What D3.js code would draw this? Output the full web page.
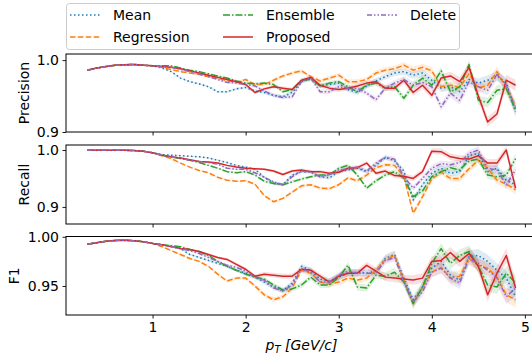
<!DOCTYPE html>
<html>
<head>
<meta charset="utf-8">
<script src="https://cdn.jsdelivr.net/npm/d3@7"></script>
<style>
html,body{margin:0;padding:0;background:#fff;}
svg{display:block;font-family:"DejaVu Sans",sans-serif;}
</style>
</head>
<body>
<svg id="chart" width="532" height="358"></svg>
<script>
const pT = [0.3,0.4,0.5,0.6,0.7,0.8,0.9,1.0,1.1,1.2,1.3,1.4,1.5,1.6,1.7,1.8,1.9,2.0,2.1,2.2,2.3,2.4,2.5,2.6,2.7,2.8,2.9,3.0,3.1,3.2,3.3,3.4,3.5,3.6,3.7,3.8,3.9,4.0,4.1,4.2,4.3,4.4,4.5,4.6,4.7,4.8,4.9];
const methods = ["Mean","Regression","Ensemble","Proposed","Delete"];
const xTicks = [1,2,3,4,5];

// Precision
const precMean = [0.986,0.989,0.991,0.993,0.9935,0.994,0.993,0.992, 0.989,0.984,0.975,0.970,0.967,0.963,0.956,0.956,0.960,0.962,0.957, 0.955,0.951,0.949,0.955,0.970,0.975,0.964,0.966,0.968,0.959,0.955,0.964,0.971,0.977,0.982,0.984,0.979,0.982,0.972,0.961,0.963,0.956,0.973,0.968,0.972,0.978,0.968,0.928];
const precRegression = [0.986,0.989,0.991,0.993,0.9935,0.994,0.993,0.992, 0.990,0.987,0.984,0.982,0.980,0.977,0.975,0.971,0.969,0.973,0.966, 0.966,0.972,0.978,0.982,0.985,0.977,0.971,0.975,0.979,0.970,0.970,0.973,0.982,0.986,0.988,0.993,0.986,0.990,0.985,0.963,0.965,0.962,0.981,0.961,0.965,0.984,0.961,0.937];
const precEnsemble = [0.986,0.989,0.991,0.993,0.9935,0.994,0.993,0.992, 0.992,0.992,0.989,0.986,0.984,0.981,0.978,0.975,0.971,0.968,0.967, 0.968,0.966,0.956,0.959,0.972,0.973,0.964,0.968,0.970,0.963,0.956,0.965,0.968,0.961,0.963,0.947,0.965,0.975,0.965,0.985,0.956,0.963,0.994,0.944,0.941,0.958,0.960,0.931];
const precProposed = [0.986,0.989,0.991,0.993,0.9935,0.994,0.993,0.992, 0.991,0.990,0.988,0.985,0.982,0.979,0.976,0.973,0.970,0.966,0.955, 0.960,0.963,0.961,0.959,0.972,0.976,0.965,0.961,0.959,0.961,0.964,0.968,0.970,0.961,0.961,0.972,0.955,0.965,0.951,0.975,0.978,0.970,0.990,0.950,0.914,0.925,0.972,0.965];
const precDelete = [0.986,0.989,0.991,0.993,0.9935,0.994,0.993,0.992, 0.991,0.990,0.987,0.984,0.981,0.977,0.973,0.969,0.968,0.966,0.964, 0.957,0.951,0.948,0.949,0.970,0.975,0.956,0.956,0.963,0.961,0.961,0.954,0.945,0.961,0.968,0.973,0.965,0.969,0.963,0.935,0.954,0.944,0.970,0.963,0.958,0.980,0.965,0.933];

// Recall
const recMean = [0.9995,0.9995,0.9995,0.9995,0.9995,0.999,0.998,0.995, 0.992,0.991,0.990,0.989,0.988,0.986,0.982,0.978,0.973,0.970,0.966, 0.952,0.942,0.939,0.956,0.962,0.962,0.953,0.951,0.962,0.965,0.968,0.962,0.973,0.987,0.981,0.963,0.912,0.939,0.959,0.968,0.959,0.962,0.990,0.994,0.962,0.968,0.947,0.939];
const recRegression = [0.9995,0.9995,0.9995,0.9995,0.9995,0.999,0.998,0.995, 0.990,0.985,0.977,0.970,0.964,0.960,0.952,0.947,0.945,0.946,0.940, 0.920,0.909,0.915,0.926,0.937,0.939,0.933,0.932,0.939,0.951,0.946,0.956,0.969,0.974,0.973,0.953,0.889,0.918,0.949,0.961,0.950,0.950,0.967,0.982,0.968,0.947,0.940,0.930];
const recEnsemble = [0.9995,0.9995,0.9995,0.9995,0.9995,0.999,0.998,0.995, 0.991,0.988,0.985,0.982,0.978,0.973,0.968,0.962,0.960,0.962,0.956, 0.945,0.941,0.939,0.944,0.949,0.953,0.956,0.956,0.968,0.973,0.956,0.933,0.946,0.956,0.962,0.950,0.918,0.928,0.953,0.962,0.969,0.965,0.981,0.984,0.956,0.953,0.956,0.985];
const recProposed = [0.9995,0.9995,0.9995,0.9995,0.9995,0.999,0.998,0.995, 0.991,0.988,0.986,0.983,0.980,0.979,0.977,0.973,0.970,0.968,0.967, 0.966,0.963,0.957,0.963,0.965,0.962,0.962,0.959,0.961,0.968,0.969,0.977,0.959,0.963,0.955,0.954,0.950,0.962,0.998,0.997,0.988,0.985,0.984,0.990,0.977,0.977,1.000,0.933];
const recDelete = [0.9995,0.9995,0.9995,0.9995,0.9995,0.999,0.998,0.995, 0.991,0.988,0.986,0.982,0.980,0.978,0.975,0.968,0.966,0.966,0.960, 0.952,0.944,0.939,0.953,0.963,0.961,0.953,0.957,0.965,0.967,0.970,0.963,0.977,0.987,0.984,0.953,0.933,0.950,0.968,0.976,0.974,0.978,0.994,1.000,0.968,0.965,0.939,0.965];

// F1
const f1Mean = [0.9925,0.994,0.9955,0.9963,0.9965,0.996,0.995,0.9933, 0.992,0.990,0.988,0.982,0.979,0.976,0.973,0.970,0.966,0.963,0.959, 0.954,0.949,0.945,0.953,0.970,0.966,0.957,0.955,0.959,0.963,0.964,0.963,0.965,0.978,0.982,0.958,0.936,0.949,0.968,0.975,0.961,0.956,0.980,0.981,0.975,0.966,0.958,0.939];
const f1Regression = [0.9925,0.994,0.9955,0.9963,0.9965,0.996,0.995,0.9933, 0.990,0.986,0.982,0.978,0.975,0.970,0.962,0.955,0.958,0.958,0.950, 0.941,0.936,0.939,0.948,0.966,0.963,0.954,0.952,0.954,0.958,0.956,0.958,0.966,0.977,0.981,0.956,0.932,0.949,0.964,0.969,0.958,0.960,0.978,0.971,0.968,0.959,0.941,0.936];
const f1Ensemble = [0.9925,0.994,0.9955,0.9963,0.9965,0.996,0.995,0.9933, 0.992,0.991,0.990,0.987,0.985,0.981,0.975,0.970,0.966,0.962,0.959, 0.957,0.951,0.946,0.947,0.951,0.959,0.951,0.951,0.959,0.971,0.949,0.948,0.961,0.960,0.964,0.954,0.932,0.949,0.973,0.988,0.973,0.981,0.985,0.970,0.951,0.949,0.963,0.953];
const f1Proposed = [0.9925,0.994,0.9955,0.9963,0.9965,0.996,0.995,0.9933, 0.992,0.990,0.988,0.987,0.985,0.982,0.979,0.977,0.972,0.967,0.960, 0.962,0.961,0.960,0.960,0.967,0.966,0.960,0.954,0.960,0.963,0.963,0.971,0.965,0.959,0.958,0.957,0.956,0.958,0.975,0.976,0.984,0.975,0.983,0.970,0.941,0.963,0.981,0.948];
const f1Delete = [0.9925,0.994,0.9955,0.9963,0.9965,0.996,0.995,0.9933, 0.992,0.990,0.988,0.986,0.983,0.979,0.975,0.971,0.969,0.965,0.959, 0.956,0.948,0.945,0.951,0.967,0.964,0.954,0.954,0.961,0.965,0.963,0.963,0.963,0.976,0.979,0.954,0.934,0.944,0.964,0.968,0.958,0.953,0.978,0.973,0.966,0.958,0.939,0.948];

// half-width of the shaded spread band
const spread = [0.0004,0.0004,0.0004,0.0004,0.0004,0.0005,0.0005,0.0006, 0.0007,0.0008,0.0009,0.001,0.0011,0.0012,0.0013,0.0014,0.0016,0.0018,0.002, 0.0022,0.0024,0.0025,0.0026,0.0027,0.0028,0.003,0.0031,0.0032,0.0034,0.0035,0.0036,0.0038,0.004,0.0042,0.0045,0.0048,0.005,0.0052,0.0055,0.0057,0.006,0.0062,0.0065,0.0068,0.007,0.0074,0.0078];

const colors = {Mean:"#1f77b4", Regression:"#ff7f0e", Ensemble:"#2ca02c", Proposed:"#d62728", Delete:"#9467bd"};
const dashes = {Mean:"1.5,2.5", Regression:"5.5,2.4", Ensemble:"7,2,1.5,2", Proposed:null, Delete:"5,2,1.5,2,1.5,2"};

const panels = [
  {label:"Precision", series:[precMean,precRegression,precEnsemble,precProposed,precDelete], domain:[0.9,1.0085], ticks:[0.9,1.0], fmt:".1f", top:54, bottom:132, labelX:25},
  {label:"Recall", series:[recMean,recRegression,recEnsemble,recProposed,recDelete], domain:[0.870,1.0088], ticks:[0.9,1.0], fmt:".1f", top:145, bottom:224, labelX:25},
  {label:"F1", series:[f1Mean,f1Regression,f1Ensemble,f1Proposed,f1Delete], domain:[0.9205,1.0003], ticks:[0.95,1.0], fmt:".2f", top:236.5, bottom:315, labelX:15}
];

const svg = d3.select("#chart");
const left = 66, right = 537;
const x = d3.scaleLinear().domain([0.07,5.13]).range([left,right]);

panels.forEach((p,pi) => {
  const y = d3.scaleLinear().domain(p.domain).range([p.bottom,p.top]);
  const g = svg.append("g");
  const clipId = "clip"+pi;
  svg.append("clipPath").attr("id",clipId).append("rect")
    .attr("x",left).attr("y",p.top).attr("width",right-left).attr("height",p.bottom-p.top);
  const plot = g.append("g").attr("clip-path",`url(#${clipId})`);
  const area = d3.area().x((d,i)=>x(pT[i])).y0((d,i)=>y(d-spread[i])).y1((d,i)=>y(d+spread[i]));
  const line = d3.line().x((d,i)=>x(pT[i])).y(d=>y(d));
  p.series.forEach((s,si) => {
    plot.append("path").datum(s).attr("d",area)
      .attr("fill",colors[methods[si]]).attr("fill-opacity",0.15).attr("stroke","none");
  });
  p.series.forEach((s,si) => {
    const m = methods[si];
    const path = plot.append("path").datum(s).attr("d",line)
      .attr("fill","none").attr("stroke",colors[m]).attr("stroke-width",1.5)
      .attr("stroke-linejoin","round");
    if (dashes[m]) path.attr("stroke-dasharray",dashes[m]);
  });
  // frame
  g.append("rect").attr("x",left).attr("y",p.top).attr("width",right-left).attr("height",p.bottom-p.top)
    .attr("fill","none").attr("stroke","#000").attr("stroke-width",1);
  // x axis
  const xa = d3.axisBottom(x).tickValues(xTicks).tickSize(3.5).tickPadding(3.5).tickSizeOuter(0)
    .tickFormat(d3.format("d"));
  if (pi < panels.length-1) xa.tickFormat("");
  const gx = g.append("g").attr("transform",`translate(0,${p.bottom})`).call(xa);
  gx.select(".domain").remove();
  gx.selectAll("line").attr("stroke","#000").attr("stroke-width",0.9);
  gx.selectAll("text").attr("font-size",14).attr("fill","#000").attr("font-family","DejaVu Sans");
  // y axis
  const ya = d3.axisLeft(y).tickValues(p.ticks).tickFormat(d3.format(p.fmt)).tickSize(3.5).tickPadding(3.5).tickSizeOuter(0);
  const gy = g.append("g").attr("transform",`translate(${left},0)`).call(ya);
  gy.select(".domain").remove();
  gy.selectAll("line").attr("stroke","#000").attr("stroke-width",0.9);
  gy.selectAll("text").attr("font-size",14).attr("fill","#000").attr("font-family","DejaVu Sans");
  // y label
  g.append("text").attr("transform",`translate(${p.labelX},${(p.top+p.bottom)/2}) rotate(-90)`)
    .attr("text-anchor","middle").attr("dominant-baseline","middle").attr("font-size",14).text(p.label);
});

// x label
const xl = svg.append("text").attr("x",(left+right)/2).attr("y",350).attr("text-anchor","middle").attr("font-size",14);
xl.append("tspan").attr("font-style","italic").text("p");
xl.append("tspan").attr("font-style","italic").attr("font-size",10).attr("dy",3).text("T");
xl.append("tspan").attr("font-style","italic").attr("dy",-3).text(" [GeV/c]");

// legend
const lg = svg.append("g");
lg.append("rect").attr("x",66.5).attr("y",3.5).attr("width",393).attr("height",46).attr("rx",3)
  .attr("fill","#fff").attr("fill-opacity",0.8).attr("stroke","#ccc").attr("stroke-width",1);
const legendCols = [70,223,367];
const legendRows = [15,37];
methods.forEach((m,i) => {
  const col = Math.floor(i/2), row = i%2;
  const lx = legendCols[col], ly = legendRows[row];
  const ln = lg.append("line").attr("x1",lx).attr("x2",lx+30).attr("y1",ly).attr("y2",ly)
    .attr("stroke",colors[m]).attr("stroke-width",1.5);
  if (dashes[m]) ln.attr("stroke-dasharray",dashes[m]);
  lg.append("text").attr("x",lx+43).attr("y",ly).attr("dominant-baseline","central")
    .attr("font-size",14).text(m);
});
</script>
</body>
</html>
